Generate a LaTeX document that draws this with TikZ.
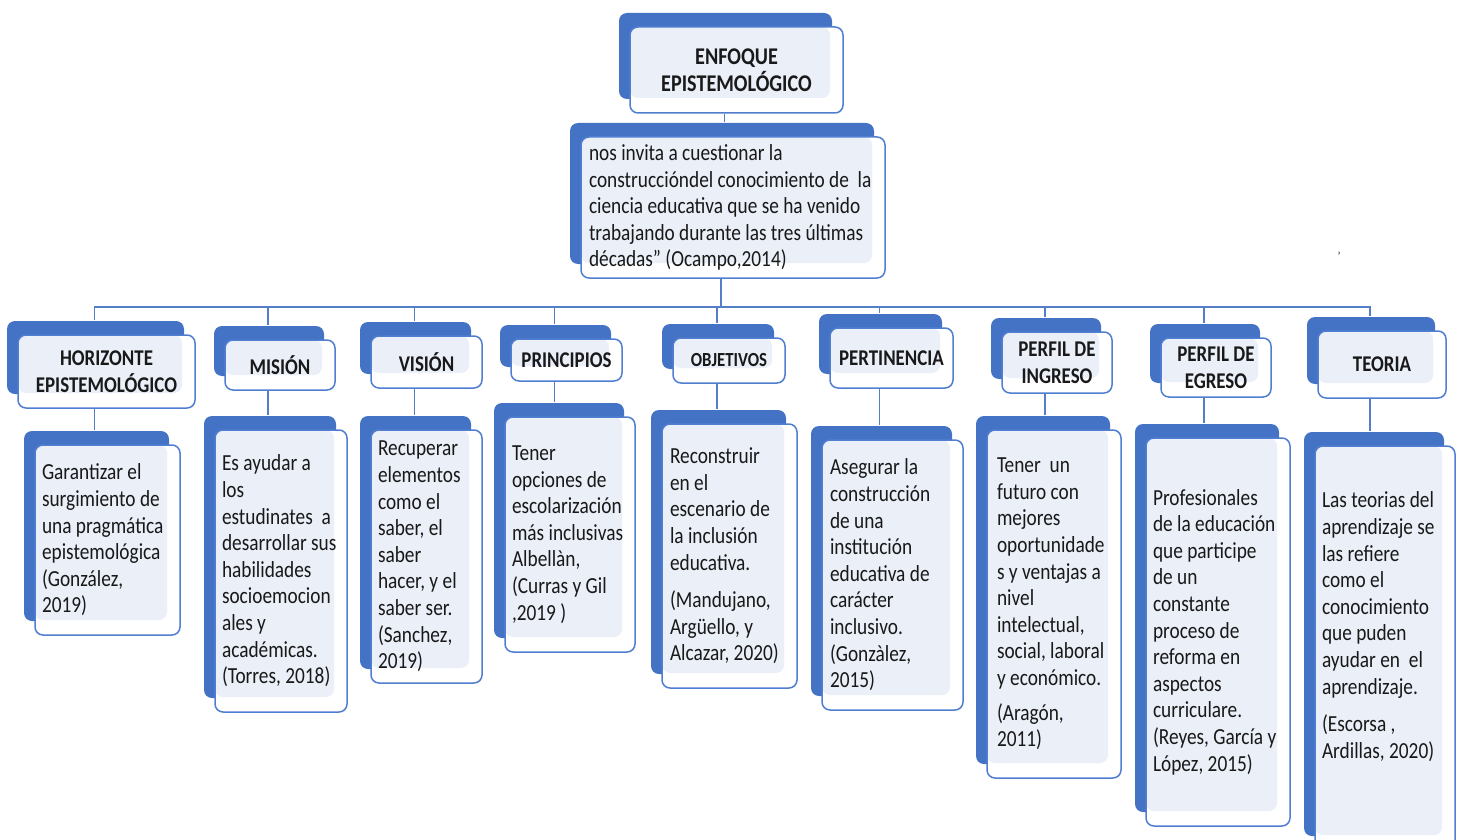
\documentclass[tikz,border=0pt]{standalone}
\usepackage{fontspec}
\setmainfont{Carlito}[FakeStretch=0.84]
\usepackage{color}
\usetikzlibrary{arrows,positioning}
\definecolor{boxblue}{RGB}{68,114,196}
\definecolor{edgeblue}{RGB}{80,126,208}
\definecolor{boxfill}{RGB}{234,239,248}
\definecolor{linkblue}{RGB}{84,126,200}

\begin{document}
\begin{tikzpicture}[x=1pt, y=-1pt]
    \tikzset{
      cardnode/.style={rectangle,rounded corners=8pt,draw=edgeblue,line width=1.5pt,fill=white,inner sep=0pt,text=black!90,
        preaction={fill=boxblue,transform canvas={shift={(-11pt,14pt)}}},
        path picture={\fill[boxfill] (path picture bounding box.north west) rectangle ([xshift=-13pt,yshift=15pt]path picture bounding box.south east);},
        execute at begin node={\spaceskip=4.4pt plus 2pt minus 1pt\xspaceskip=4.4pt plus 2pt minus 1pt\relax}},
      headnode/.style={cardnode,font=\bfseries\fontsize{22.5}{27}\selectfont,align=center},
      textnode/.style={cardnode,font=\fontsize{23}{26.6}\selectfont,align=left,inner xsep=7pt},
      link/.style={draw=linkblue,line width=1.6pt}
    }
    \useasboundingbox (0,0) rectangle (1459,840);

    \node[headnode,font=\bfseries\fontsize{24}{27}\selectfont,minimum width=213pt,minimum height=86pt](enfoque) at (736.5,70){ENFOQUE\\EPISTEMOLÓGICO};
    \node[textnode,minimum width=300pt,minimum height=141pt,text width=288pt,inner xsep=8pt](cita) at (733,207.5){nos invita a cuestionar la\\construccióndel conocimiento de~ la\\ciencia educativa que se ha venido\\trabajando durante las tres últimas\\décadas” (Ocampo,2014)};
    \node[font=\fontsize{12}{12}\selectfont](tilde) at (1339,256){'};

    \node[headnode,minimum width=177pt,minimum height=73pt](horizonte) at (106.5,371.5){HORIZONTE\\EPISTEMOLÓGICO};
    \node[headnode,minimum width=110pt,minimum height=50pt](mision) at (280,365){MISIÓN};
    \node[headnode,minimum width=111pt,minimum height=52pt](vision) at (426.5,362){VISIÓN};
    \node[headnode,minimum width=111pt,minimum height=42pt](principios) at (566.5,360){PRINCIPIOS};
    \node[headnode,font=\bfseries\fontsize{20}{24}\selectfont,minimum width=112pt,minimum height=45pt](objetivos) at (729,360.5){OBJETIVOS};
    \node[headnode,minimum width=123pt,minimum height=60pt](pertinencia) at (891.5,358){PERTINENCIA};
    \node[headnode,minimum width=110pt,minimum height=61pt](ingreso) at (1057,362.5){PERFIL DE\\INGRESO};
    \node[headnode,minimum width=110pt,minimum height=59pt](egreso) at (1216,367.5){PERFIL DE\\EGRESO};
    \node[headnode,minimum width=128pt,minimum height=67pt](teoria) at (1382,364.5){TEORIA};

    \node[textnode,minimum width=145pt,minimum height=190pt,text width=131pt](horizontetxt) at (107.5,540){Garantizar el\\surgimiento de\\una pragmática\\epistemológica\\(González,\\2019)};
    \node[textnode,minimum width=132pt,minimum height=282pt,text width=118pt](misiontxt) at (281,571){Es ayudar a\\los\\estudinates~ a\\desarrollar sus\\habilidades\\socioemocion\\ales y\\académicas.\\(Torres, 2018)};
    \node[textnode,minimum width=111pt,minimum height=253pt,text width=97pt](visiontxt) at (426.5,556.5){Recuperar\\elementos\\como el\\saber, el\\saber\\hacer, y el\\saber ser.\\(Sanchez,\\2019)};
    \node[textnode,minimum width=130pt,minimum height=235pt,text width=116pt](principiostxt) at (570,534.5){Tener\\opciones de\\escolarización\\más inclusivas\\Albellàn,\\(Curras y Gil\\,2019 )};
    \node[textnode,minimum width=135pt,minimum height=264pt,text width=119pt,inner xsep=8pt](objetivostxt) at (729.5,556){Reconstruir\\en el\\escenario de\\la inclusión\\educativa.\\[11pt](Mandujano,\\Argüello, y\\Alcazar, 2020)};
    \node[textnode,minimum width=141pt,minimum height=270pt,text width=125pt,inner xsep=8pt](pertinenciatxt) at (892.5,575){Asegurar la\\construcción\\de una\\institución\\educativa de\\carácter\\inclusivo.\\(Gonzàlez,\\2015)};
    \node[textnode,minimum width=134pt,minimum height=348pt,text width=114pt,inner xsep=10pt](ingresotxt) at (1054,604){Tener~ un\\futuro con\\mejores\\oportunidade\\s y ventajas a\\nivel\\intelectual,\\social, laboral\\y económico.\\[8pt](Aragón,\\2011)};
    \node[textnode,minimum width=144pt,minimum height=388pt,text width=130pt](egresotxt) at (1218,632){Profesionales\\de la educación\\que participe\\de un\\constante\\proceso de\\reforma en\\aspectos\\curriculare.\\(Reyes, García y\\López, 2015)};
    \node[textnode,minimum width=140pt,minimum height=404pt,text width=126pt](teoriatxt) at (1385,648){Las teorias del\\aprendizaje se\\las refiere\\como el\\conocimiento\\que puden\\ayudar en~ el\\aprendizaje.\\[11pt](Escorsa ,\\Ardillas, 2020)\\[19pt]\mbox{}};

    \coordinate (bus) at (720,307);
    \draw[link]([xshift=-12pt]enfoque.south) -- ([xshift=-12pt,yshift=14pt]enfoque.south |- cita.north);
    \draw[link]([xshift=-12pt]cita.south) |- ([xshift=-12pt]horizonte.north |- bus) -- ([xshift=-12pt,yshift=14pt]horizonte.north);
    \draw[link]([xshift=-12pt]cita.south) |- ([xshift=-12pt]mision.north |- bus) -- ([xshift=-12pt,yshift=14pt]mision.north);
    \draw[link]([xshift=-12pt]cita.south) |- ([xshift=-12pt]vision.north |- bus) -- ([xshift=-12pt,yshift=14pt]vision.north);
    \draw[link]([xshift=-12pt]cita.south) |- ([xshift=-12pt]principios.north |- bus) -- ([xshift=-12pt,yshift=14pt]principios.north);
    \draw[link]([xshift=-12pt]cita.south) |- ([xshift=-12pt]objetivos.north |- bus) -- ([xshift=-12pt,yshift=14pt]objetivos.north);
    \draw[link]([xshift=-12pt]cita.south) |- ([xshift=-12pt]pertinencia.north |- bus) -- ([xshift=-12pt,yshift=14pt]pertinencia.north);
    \draw[link]([xshift=-12pt]cita.south) |- ([xshift=-12pt]ingreso.north |- bus) -- ([xshift=-12pt,yshift=14pt]ingreso.north);
    \draw[link]([xshift=-12pt]cita.south) |- ([xshift=-12pt]egreso.north |- bus) -- ([xshift=-12pt,yshift=14pt]egreso.north);
    \draw[link]([xshift=-12pt]cita.south) |- ([xshift=-12pt]teoria.north |- bus) -- ([xshift=-12pt,yshift=14pt]teoria.north);

    \draw[link]([xshift=-12pt]horizonte.south) -- ([xshift=-12pt,yshift=14pt]horizonte.south |- horizontetxt.north);
    \draw[link]([xshift=-12pt]mision.south) -- ([xshift=-12pt,yshift=14pt]mision.south |- misiontxt.north);
    \draw[link]([xshift=-12pt]vision.south) -- ([xshift=-12pt,yshift=14pt]vision.south |- visiontxt.north);
    \draw[link]([xshift=-12pt]principios.south) -- ([xshift=-12pt,yshift=14pt]principios.south |- principiostxt.north);
    \draw[link]([xshift=-12pt]objetivos.south) -- ([xshift=-12pt,yshift=14pt]objetivos.south |- objetivostxt.north);
    \draw[link]([xshift=-12pt]pertinencia.south) -- ([xshift=-12pt,yshift=14pt]pertinencia.south |- pertinenciatxt.north);
    \draw[link]([xshift=-12pt]ingreso.south) -- ([xshift=-12pt,yshift=14pt]ingreso.south |- ingresotxt.north);
    \draw[link]([xshift=-12pt]egreso.south) -- ([xshift=-12pt,yshift=14pt]egreso.south |- egresotxt.north);
    \draw[link]([xshift=-12pt]teoria.south) -- ([xshift=-12pt,yshift=14pt]teoria.south |- teoriatxt.north);

  \end{tikzpicture}
\end{document}
